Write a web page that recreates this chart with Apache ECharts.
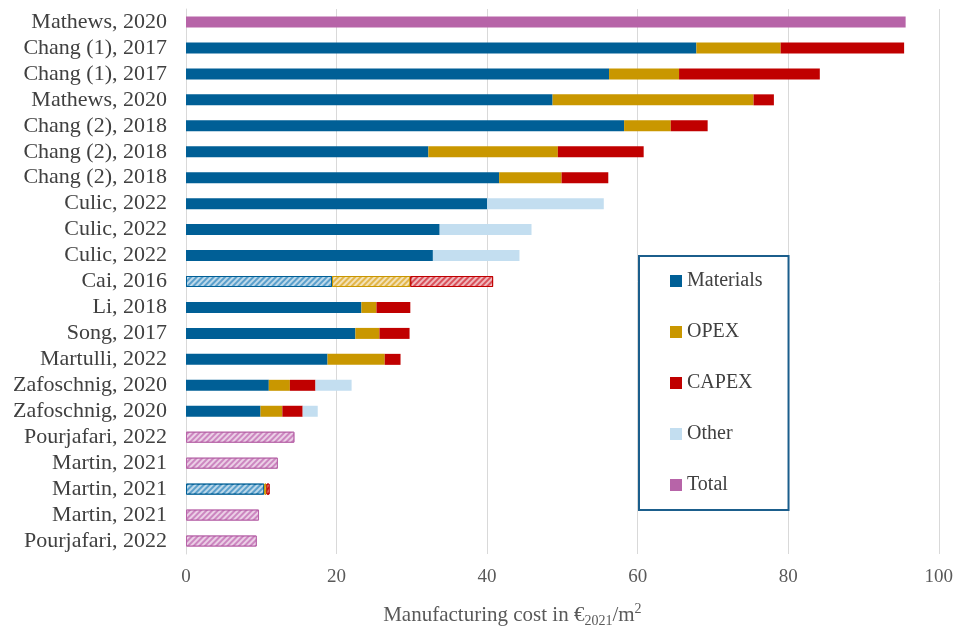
<!DOCTYPE html>
<html>
<head>
<meta charset="utf-8">
<script src="https://cdn.jsdelivr.net/npm/echarts@6/dist/echarts.min.js"></script>
<style>html,body{margin:0;padding:0;background:#fff}#c{width:956px;height:633px}</style>
</head>
<body>
<div id="c"></div>
<script>
const categories = ['Mathews, 2020','Chang (1), 2017','Chang (1), 2017','Mathews, 2020','Chang (2), 2018','Chang (2), 2018','Chang (2), 2018','Culic, 2022','Culic, 2022','Culic, 2022','Cai, 2016','Li, 2018','Song, 2017','Martulli, 2022','Zafoschnig, 2020','Zafoschnig, 2020','Pourjafari, 2022','Martin, 2021','Martin, 2021','Martin, 2021','Pourjafari, 2022'];
const materials = [null,67.8,56.2,48.7,58.2,32.2,41.6,40.0,33.7,32.8,19.4,23.3,22.5,18.8,11.0,9.9,null,null,10.4,null,null];
const opex      = [null,11.2,9.3,26.7,6.2,17.2,8.3,null,null,null,10.4,2.0,3.2,7.6,2.8,2.9,null,null,0.3,null,null];
const capex     = [null,16.4,18.7,2.7,4.9,11.4,6.2,null,null,null,11.0,4.5,4.0,2.1,3.4,2.7,null,null,0.4,null,null];
const other     = [null,null,null,null,null,null,null,15.5,12.2,11.5,null,null,null,null,4.8,2.0,null,null,null,null,null];
const total     = [95.6,null,null,null,null,null,null,null,null,null,null,null,null,null,null,null,14.4,12.2,null,9.7,9.4];
const hatchedRows = [10,16,17,18,19,20];
const xTicks = [0,20,40,60,80,100];

const seriesDefs = [
  {name:'Materials', data:materials, color:'#005f96', hatch:'#5a9fcb'},
  {name:'OPEX', data:opex, color:'#c99700', hatch:'#e2b64a'},
  {name:'CAPEX', data:capex, color:'#c00000', hatch:'#d9505a'},
  {name:'Other', data:other, color:'#c3def0', hatch:'#c3def0'},
  {name:'Total', data:total, color:'#b764a8', hatch:'#cc86c0'}
];
const decal = {symbol:'rect', symbolSize:1, dashArrayX:[[1,0]], dashArrayY:[2,2], rotation:-Math.PI/4, color:'rgba(255,255,255,0.6)'};
const serif = '"Liberation Serif","Times New Roman",serif';

const series = seriesDefs.map(s => ({
  name: s.name, type:'bar', stack:'a', barWidth:11,
  itemStyle:{color:s.color},
  data: s.data.map((v,i) => hatchedRows.includes(i) && v != null
    ? {value:v, itemStyle:{color:s.hatch, decal:decal, borderColor:s.color, borderWidth:1}}
    : v)
}));

const chart = echarts.init(document.getElementById('c'), null, {renderer:'canvas'});
chart.setOption({
  animation:false,
  aria:{enabled:false, decal:{show:false}},
  grid:{left:186, right:15, top:9, bottom:74},
  legend:{
    orient:'vertical', left:639, top:256,
    padding:[15,26,15,31], itemGap:31, itemWidth:12, itemHeight:12, icon:'rect',
    borderColor:'#1b5e8c', borderWidth:2,
    textStyle:{fontFamily:serif, fontSize:20, color:'#404040'},
    data: seriesDefs.map(s=>s.name)
  },
  xAxis:{
    type:'value', min:0, max:100, interval:20,
    axisLine:{show:false}, axisTick:{show:false},
    splitLine:{lineStyle:{color:'#d9d9d9'}},
    axisLabel:{fontFamily:serif, fontSize:19, color:'#595959', margin:14,
      formatter: v => xTicks.includes(v) ? String(v) : ''},
    name:'{n|Manufacturing cost in €}{sub|2021}{n|/m}{sup|2}',
    nameLocation:'middle', nameGap:48,
    nameTextStyle:{padding:[0,100,0,0], rich:{
      n:{fontFamily:serif, fontSize:21, color:'#595959', lineHeight:26, verticalAlign:'middle'},
      sub:{fontFamily:serif, fontSize:14, color:'#595959', lineHeight:26, verticalAlign:'bottom'},
      sup:{fontFamily:serif, fontSize:14, color:'#595959', lineHeight:26, verticalAlign:'top'}
    }}
  },
  yAxis:{
    type:'category', data:categories, inverse:true,
    axisTick:{show:false},
    axisLine:{lineStyle:{color:'#d9d9d9'}},
    axisLabel:{interval:0, fontFamily:serif, fontSize:22, color:'#404040', margin:19}
  },
  series: series
});
</script>
</body>
</html>
